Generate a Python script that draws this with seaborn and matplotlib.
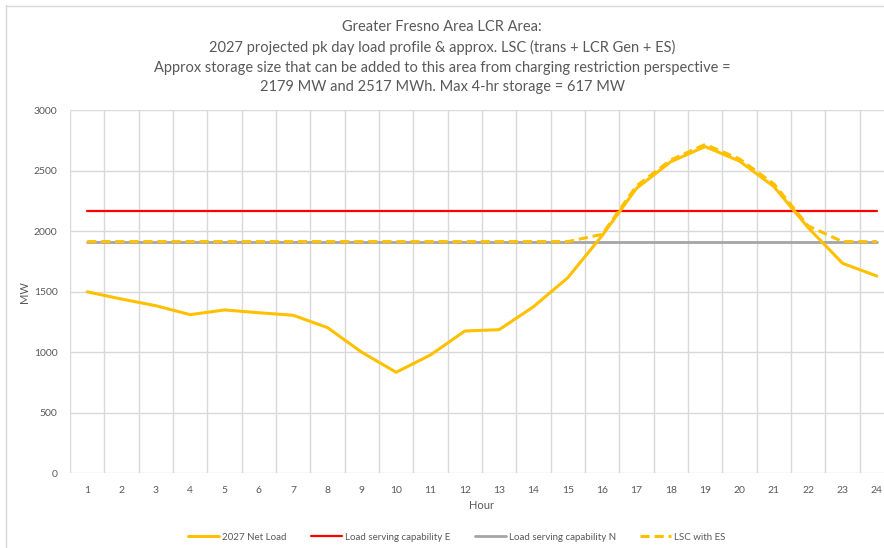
import matplotlib
matplotlib.use("Agg")
import matplotlib.pyplot as plt
from matplotlib.lines import Line2D
import numpy as np
import pandas as pd
import seaborn as sns

# Hourly profile, 2027 projected peak day
hours = list(range(1, 25))
net_load = [1500, 1440, 1385, 1311, 1350, 1327, 1306, 1204, 1000, 835, 978, 1176,
            1187, 1377, 1617, 1965, 2355, 2575, 2700, 2580, 2370, 2030, 1736, 1630]
lsc_e = [2170] * 24
lsc_n = [1915] * 24
lsc_with_es = [1915, 1915, 1915, 1915, 1915, 1915, 1915, 1915, 1915, 1915, 1915, 1915,
               1915, 1915, 1915, 1975, 2375, 2590, 2718, 2598, 2392, 2044, 1915, 1915]

series_names = ["2027 Net Load", "Load serving capability E",
                "Load serving capability N", "LSC with ES"]
y_ticks = [0, 500, 1000, 1500, 2000, 2500, 3000]

title_lines = [
    "Greater Fresno Area LCR Area:",
    "2027 projected pk day load profile & approx. LSC (trans + LCR Gen + ES)",
    "Approx storage size that can be added to this area from charging restriction perspective =",
    "2179 MW and 2517 MWh. Max 4-hr storage = 617 MW",
]

df = pd.DataFrame({
    "Hour": hours * 4,
    "MW": net_load + lsc_e + lsc_n + lsc_with_es,
    "Series": np.repeat(series_names, 24),
})

sns.set_theme(style="white")
plt.rcParams["font.family"] = ["Lato", "DejaVu Sans"]

TEXT = "#595959"
GRID = "#D9D9D9"
YELLOW = "#FFC000"
RED = "#FF0000"
GRAY = "#A5A5A5"

W, H = 884, 548
fig = plt.figure(figsize=(W / 100, H / 100), dpi=100)
fig.patch.set_facecolor("white")

# chart frame (left and top edges)
fig.add_artist(Line2D([5.5 / W, 5.5 / W], [0, 1 - 5 / H], color=GRID, lw=1.0))
fig.add_artist(Line2D([5.5 / W, 1], [1 - 5.5 / H, 1 - 5.5 / H], color=GRID, lw=1.0))

left, right = 70, 894
top, bottom = 110.3, 473.3
ax = fig.add_axes([left / W, (H - bottom) / H, (right - left) / W, (bottom - top) / H])

styles = {
    "2027 Net Load": dict(color=YELLOW, lw=2.2, ls="-", z=3),
    "Load serving capability E": dict(color=RED, lw=1.6, ls="-", z=2),
    "Load serving capability N": dict(color=GRAY, lw=2.0, ls="-", z=2),
    "LSC with ES": dict(color=YELLOW, lw=2.2, ls=(0, (3, 1.6)), z=4),
}
for name in series_names:
    st = styles[name]
    sub = df[df["Series"] == name]
    sns.lineplot(data=sub, x="Hour", y="MW", ax=ax, color=st["color"],
                 linewidth=st["lw"], linestyle=st["ls"], zorder=st["z"],
                 label=name, legend=False)

ax.set_xlim(0.5, 24.5)
ax.set_ylim(0, 3000)
ax.set_xticks(hours)
ax.set_xticks(np.arange(0.5, 25, 1), minor=True)
ax.set_yticks(y_ticks)
ax.grid(which="minor", axis="x", color=GRID, lw=1.0)
ax.grid(which="major", axis="y", color=GRID, lw=1.0)
ax.grid(which="major", axis="x", visible=False)
ax.tick_params(axis="both", which="both", length=0, colors=TEXT, labelsize=7.5)
ax.tick_params(axis="x", pad=9)
ax.tick_params(axis="y", pad=9)
for s in ax.spines.values():
    s.set_visible(False)

ax.set_xlabel("Hour", color=TEXT, fontsize=8, labelpad=4)
ax.set_ylabel("MW", color=TEXT, fontsize=8)
ax.yaxis.set_label_coords((30 - left) / (right - left), 0.5)

fig.text(0.5, 1 - 57 / H, "\n".join(title_lines), ha="center", va="center",
         color=TEXT, fontsize=10.5, linespacing=1.52)

handles = [Line2D([], [], color=styles[n]["color"], lw=styles[n]["lw"],
                  ls=styles[n]["ls"]) for n in series_names]
fig.legend(handles, series_names, loc="center", bbox_to_anchor=(457 / W, 1 - 537 / H),
           ncol=4, frameon=False, fontsize=7, labelcolor=TEXT, handlelength=3.2,
           handletextpad=0.3, columnspacing=2.5)

fig.savefig("out.png", dpi=100, facecolor="white")
